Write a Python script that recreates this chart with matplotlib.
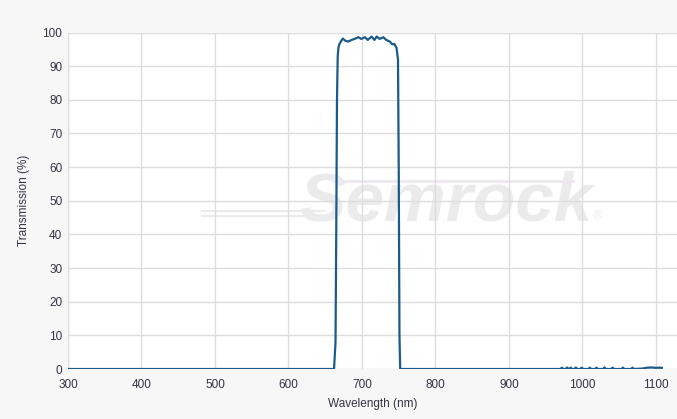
import matplotlib
matplotlib.use('Agg')
import matplotlib.pyplot as plt

# transmission spectrum
wavelength = [300, 662, 664, 665, 666, 667, 668, 669, 672, 674, 677, 681, 686, 690, 695,
              699, 704, 708, 713, 717, 720, 724, 729, 733, 738, 741, 744, 747, 749,
              750, 751, 752,
              970, 972, 974, 977, 979, 981, 982, 984, 986, 989, 991, 993, 997, 999, 1001,
              1008, 1010, 1012, 1017, 1019, 1021, 1028, 1030, 1032, 1039, 1041, 1043,
              1053, 1055, 1057, 1066, 1068, 1070, 1082, 1088, 1094, 1100, 1104, 1108]
transmission = [0, 0, 8, 40, 80, 93, 95.5, 96.4, 97.6, 98.2, 97.6, 97.3, 97.8, 98.1, 98.6,
                98.1, 98.6, 97.8, 98.8, 97.8, 98.8, 98.1, 98.6, 97.8, 97.3, 96.5, 96.6, 95.5, 92,
                60, 10, 0,
                0, 0.4, 0, 0, 0.45, 0, 0, 0.4, 0, 0, 0.45, 0, 0, 0.4, 0,
                0, 0.4, 0, 0, 0.4, 0, 0, 0.45, 0, 0, 0.4, 0,
                0, 0.4, 0, 0, 0.4, 0, 0.15, 0.4, 0.45, 0.35, 0.4, 0.35]

xticks = [300, 400, 500, 600, 700, 800, 900, 1000, 1100]
yticks = [0, 10, 20, 30, 40, 50, 60, 70, 80, 90, 100]

plt.rcParams['font.family'] = ['Liberation Sans', 'DejaVu Sans']

fig = plt.figure(figsize=(6.77, 4.19), dpi=100, facecolor='#f7f7f7')
ax = fig.add_axes([0.1004, 0.1193, 0.8996, 0.8031])
ax.set_facecolor('white')

# faint watermark
ax.text(0.62, 0.495, 'Semrock', transform=ax.transAxes, fontsize=50, fontweight='bold',
        fontstyle='italic', color='#ebebeb', ha='center', va='center', zorder=0.5)
ax.text(0.87, 0.455, '®', transform=ax.transAxes, fontsize=9, color='#ebebeb',
        ha='center', va='center', zorder=0.5)
for yy in [0.47, 0.455]:
    ax.plot([0.22, 0.42], [yy, yy], transform=ax.transAxes, color='#ebebeb', lw=1.5, zorder=0.5)
ax.plot([0.45, 0.83], [0.56, 0.56], transform=ax.transAxes, color='#efe8f4', lw=2, zorder=0.5)

ax.plot(wavelength, transmission, color='#1b5a89', lw=1.6, zorder=3)

ax.set_xlim(300, 1128.6)
ax.set_ylim(0, 100)
ax.set_xticks(xticks)
ax.set_yticks(yticks)
ax.grid(True, color='#dddddd', lw=1)
ax.set_axisbelow(True)
for s in ['top', 'right', 'bottom']:
    ax.spines[s].set_visible(False)
ax.spines['left'].set_color('#dddddd')
ax.tick_params(length=0, labelsize=8.5, labelcolor='#333344', pad=4)
ax.tick_params(axis='x', pad=7)
ax.set_xlabel('Wavelength (nm)', fontsize=8.5, color='#333344', labelpad=5)
ax.set_ylabel('Transmission (%)', fontsize=8.5, color='#333344', labelpad=9)

fig.savefig('out.png', dpi=100, facecolor=fig.get_facecolor())
